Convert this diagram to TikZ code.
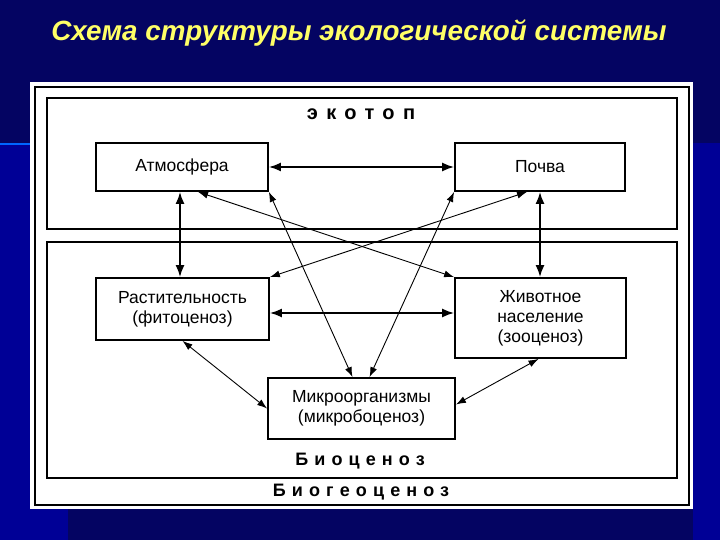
\documentclass[tikz,border=0pt]{standalone}
\usepackage{fontspec}
\setmainfont{Liberation Sans}
\newfontfamily\spacedfont[LetterSpace=34]{Liberation Sans}
\newfontfamily\widefont[LetterSpace=42]{Liberation Sans}
\usetikzlibrary{arrows.meta}

\definecolor{navy}{RGB}{4,4,98}
\definecolor{sideblue}{RGB}{0,0,150}
\definecolor{titleyellow}{RGB}{255,255,102}

\begin{document}
\begin{tikzpicture}[x=1pt,y=-1pt]

\tikzset{block/.style = {shape=rectangle,draw,fill=white,line width=1.8pt,align=center,
  font=\fontsize{17.5}{20}\selectfont}}
\tikzset{edge/.style = {<->,line width=1.8pt,> = {Latex[length=12pt,width=9pt]}}}
\tikzset{link/.style = {<->,line width=0.9pt,> = {Latex[length=10pt,width=7pt]}}}
\tikzset{caption/.style = {font=\spacedfont\bfseries\fontsize{18}{20}\selectfont}}

%background
\useasboundingbox (0,0) rectangle (720,540);
\fill[navy] (0,0) rectangle (720,540);
\fill[sideblue] (0,143) rectangle (68,540);
\fill[sideblue] (693,143) rectangle (720,540);
\draw[blue!60!cyan, line width=1.5pt] (0,144) -- (30,144);
\node[text=titleyellow, font=\bfseries\itshape\fontsize{27.8}{30}\selectfont] (title) at (359,33)
  {Схема структуры экологической системы};

%frames
\fill[white] (30,82) rectangle (693,509);
\draw[line width=2pt] (35,87) rectangle (689,505);
\draw[line width=1.8pt] (47,98) rectangle (677,229);
\draw[line width=1.8pt] (47,242) rectangle (677,478);
\node[font=\widefont\bfseries\fontsize{20}{20}\selectfont] (ekotop) at (361,114) {экотоп};
\node[caption] (bioc) at (360,461) {Биоценоз};
\node[caption] (biogeo) at (361,492) {Биогеоценоз};

%blocks
\node[block, minimum width=172pt, minimum height=48pt] (atm) at (182,167) {Атмосфера};
\node[block, minimum width=170pt, minimum height=48pt] (soil) at (540,167) {Почва};
\node[block, minimum width=173pt, minimum height=62pt] (plant) at (182.5,309) {Растительность\\(фитоценоз)};
\node[block, minimum width=171pt, minimum height=80pt] (animal) at (540.5,318) {Животное\\население\\(зооценоз)};
\node[block, minimum width=187pt, minimum height=61pt] (micro) at (361.5,408.5) {Микроорганизмы\\(микробоценоз)};

%links
\draw[edge] (atm) -- (soil);
\draw[edge] ([xshift=-2pt]atm.south) -- ([xshift=-2.5pt]plant.north);
\draw[edge] (soil.south) -- ([xshift=-0.5pt]animal.north);
\draw[edge] ([yshift=-4pt]plant.east) -- ([yshift=-4pt]plant.east -| animal.west);
\draw[link] ([xshift=16pt]atm.south) -- (animal.north west);
\draw[link] ([xshift=-13pt]soil.south) -- (plant.north east);
\draw[link] (atm.south east) -- ([xshift=-9pt]micro.north);
\draw[link] (soil.south west) -- ([xshift=8pt]micro.north);
\draw[link] (plant.south) -- (micro.west);
\draw[link] ([xshift=-2pt]animal.south) -- ([yshift=4pt]micro.east);

\end{tikzpicture}
\end{document}
